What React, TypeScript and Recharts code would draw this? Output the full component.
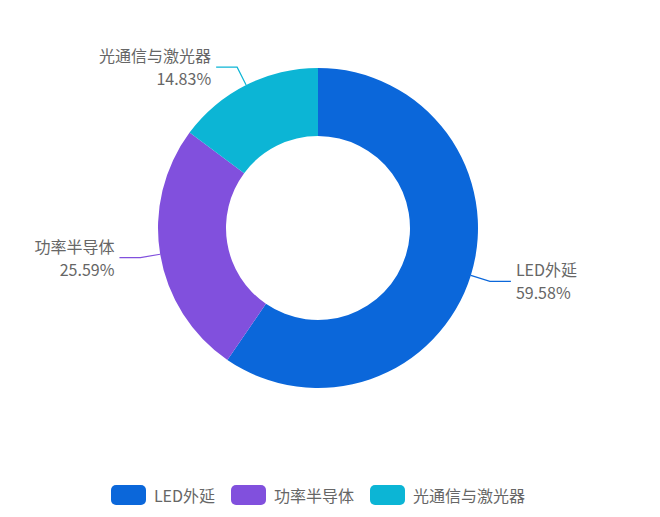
import React from 'react';
import { PieChart, Pie, Cell, Legend } from 'recharts';

// Segment shares (%)
const categories = ['LED外延', '功率半导体', '光通信与激光器'];
const shares = [59.58, 25.59, 14.83];
const colors = ['#0b67da', '#8150dd', '#0cb5d5'];

const data = categories.map((name, i) => ({ name, value: shares[i] }));

const RADIAN = Math.PI / 180;
const TEXT_COLOR = '#666';
const FONT = '"Noto Sans CJK SC", "Noto Sans", sans-serif';

function SliceLabel(props: any) {
  const { cx, cy, midAngle, outerRadius, index, percent } = props;
  const cos = Math.cos(-midAngle * RADIAN);
  const sin = Math.sin(-midAngle * RADIAN);
  const sx = cx + outerRadius * cos;
  const sy = cy + outerRadius * sin;
  const mx = cx + (outerRadius + 20) * cos;
  const my = cy + (outerRadius + 20) * sin;
  const right = cos >= 0;
  const ex = mx + (right ? 21 : -21);
  const tx = ex + (right ? 5 : -5);
  const anchor = right ? 'start' : 'end';
  return (
    <g>
      <polyline
        points={`${sx},${sy} ${mx},${my} ${ex},${my}`}
        fill="none"
        stroke={colors[index]}
        strokeWidth={1.2}
      />
      <text x={tx} y={my - 5} textAnchor={anchor} fill={TEXT_COLOR} fontSize={16} fontFamily={FONT}>
        {categories[index]}
      </text>
      <text x={tx} y={my + 18} textAnchor={anchor} fill={TEXT_COLOR} fontSize={16} fontFamily={FONT}>
        {(percent * 100).toFixed(2)}%
      </text>
    </g>
  );
}

function LegendContent() {
  return (
    <div style={{ display: 'flex', justifyContent: 'center', gap: 16, fontFamily: FONT }}>
      {categories.map((name, i) => (
        <div key={name} style={{ display: 'flex', alignItems: 'center' }}>
          <span
            style={{
              display: 'inline-block',
              width: 35,
              height: 20,
              borderRadius: 5,
              background: colors[i],
              marginRight: 8,
            }}
          />
          <span style={{ fontSize: 16, color: TEXT_COLOR }}>{name}</span>
        </div>
      ))}
    </div>
  );
}

export default function App() {
  return (
    <div style={{ position: 'absolute', left: 0, top: 0, background: '#fff' }}>
      <PieChart width={660} height={517}>
        <Pie
          data={data}
          dataKey="value"
          nameKey="name"
          cx={313}
          cy={223}
          innerRadius={92}
          outerRadius={160}
          startAngle={90}
          endAngle={-270}
          stroke="none"
          label={<SliceLabel />}
          labelLine={false}
          isAnimationActive={false}
        >
          {data.map((d, i) => (
            <Cell key={d.name} fill={colors[i]} />
          ))}
        </Pie>
        <Legend
          verticalAlign="bottom"
          content={<LegendContent />}
          wrapperStyle={{ bottom: 10, left: 0, width: 636 }}
        />
      </PieChart>
    </div>
  );
}
